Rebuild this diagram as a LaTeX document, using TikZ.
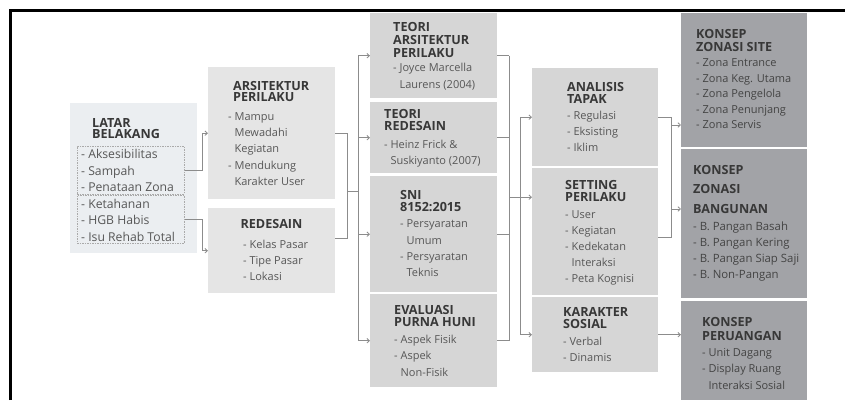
\documentclass[tikz,border=0pt]{standalone}
\usepackage{fontspec}
\setmainfont{Open Sans}
\usetikzlibrary{arrows.meta}
\definecolor{latarc}{HTML}{EBEEF1}
\definecolor{lightc}{HTML}{E5E5E5}
\definecolor{midc}{HTML}{D6D6D6}
\definecolor{darkc}{HTML}{A2A3A7}
\definecolor{titlec}{HTML}{383838}
\definecolor{itemc}{HTML}{575757}
\definecolor{itemdark}{HTML}{444444}
\definecolor{linec}{HTML}{8C8C8C}
\definecolor{dashc}{HTML}{AAAAAA}
\newcommand{\ind}{\hphantom{- }}
\newcommand{\li}[1]{\hbox{#1}}
\begin{document}
\begin{tikzpicture}[x=1pt,y=-1pt,
  box/.style={draw=none, inner sep=0pt, anchor=north west},
  dbox/.style={draw=dashc, dash pattern=on 1.5pt off 1pt, line width=0.5pt, inner sep=0pt, anchor=north west},
  ttl/.style={anchor=base west, inner sep=0pt, text=titlec, font=\bfseries\fontsize{12.6}{#1}\selectfont},
  ttl/.default=12.6,
  itm/.style={anchor=base west, inner sep=0pt, text=itemc, font=\fontsize{11}{#1}\selectfont},
  itm/.default=16.3,
  conn/.style={draw=linec, line width=0.8pt},
  arr/.style={conn, -{Straight Barb[length=2.5pt,width=4.5pt]}}
]
\useasboundingbox (0,0) rectangle (845,400);
\fill[white] (0,0) rectangle (845,400);
\draw[line width=3.5pt, black, line join=miter] (10.5,400) -- (10.5,10.5) -- (845,10.5);

% ---------- column 1
\node[box, fill=latarc, minimum width=127pt, minimum height=150pt] (latar) at (70,103) {};
\node[dbox, minimum width=107pt, minimum height=47.5pt] (d1) at (77,146) {};
\node[dbox, minimum width=107pt, minimum height=48pt] (d2) at (77,195) {};
\node[ttl=11.5] (latarT) at (92,127) {\vtop{\li{LATAR}\li{BELAKANG}}};
\node[itm=16.6, font=\fontsize{12.2}{16.6}\selectfont] (latarI) at (81,158.5) {\vtop{\li{- Aksesibilitas}\li{- Sampah}\li{- Penataan Zona}\li{- Ketahanan}\li{- HGB Habis}\li{- Isu Rehab Total}}};

% ---------- column 2
\node[box, fill=lightc, minimum width=127pt, minimum height=132pt] (ars) at (208,67) {};
\node[ttl=11] (arsT) at (233,90.5) {\vtop{\li{ARSITEKTUR}\li{PERILAKU}}};
\node[itm=16.2] (arsI) at (228,120.5) {\vtop{\li{- Mampu}\li{\ind Mewadahi}\li{\ind Kegiatan}\li{- Mendukung}\li{\ind Karakter User}}};

\node[box, fill=lightc, minimum width=127pt, minimum height=85pt] (red) at (208,208) {};
\node[ttl, anchor=base] (redT) at (271.5,228) {REDESAIN};
\node[itm=16] (redI) at (243,248) {\vtop{\li{- Kelas Pasar}\li{- Tipe Pasar}\li{- Lokasi}}};

% ---------- column 3
\node[box, fill=midc, minimum width=127pt, minimum height=85pt] (tar) at (370,13) {};
\node[ttl=12.8] (tarT) at (393,31.7) {\vtop{\li{TEORI}\li{ARSITEKTUR}\li{PERILAKU}}};
\node[itm=16.3] (tarI) at (393,71.7) {\vtop{\li{- Joyce Marcella}\li{\ind Laurens (2004)}}};

\node[box, fill=midc, minimum width=127pt, minimum height=71pt] (tred) at (370,102) {};
\node[ttl=12.7] (tredT) at (384,118) {\vtop{\li{TEORI}\li{REDESAIN}}};
\node[itm=16.5] (tredI) at (384,148) {\vtop{\li{- Heinz Frick \&}\li{\ind Suskiyanto (2007)}}};

\node[box, fill=midc, minimum width=127pt, minimum height=116pt] (sni) at (370,176) {};
\node[ttl=12.4] (sniT) at (400,199.3) {\vtop{\li{SNI}\li{8152:2015}}};
\node[itm=16.4] (sniI) at (400,227.7) {\vtop{\li{- Persyaratan}\li{\ind Umum}\li{- Persyaratan}\li{\ind Teknis}}};

\node[box, fill=midc, minimum width=127pt, minimum height=93pt] (eval) at (370,294) {};
\node[ttl=12.7] (evalT) at (394,314) {\vtop{\li{EVALUASI}\li{PURNA HUNI}}};
\node[itm=16.8] (evalI) at (394,343) {\vtop{\li{- Aspek Fisik}\li{- Aspek}\li{\ind Non-Fisik}}};

% ---------- column 4
\node[box, fill=midc, minimum width=126pt, minimum height=98pt] (ana) at (532,68) {};
\node[ttl=11.6] (anaT) at (567,91.7) {\vtop{\li{ANALISIS}\li{TAPAK}}};
\node[itm=16.2] (anaI) at (567,119.3) {\vtop{\li{- Regulasi}\li{- Eksisting}\li{- Iklim}}};

\node[box, fill=midc, minimum width=126pt, minimum height=127pt] (set) at (532,168) {};
\node[ttl=12.4] (setT) at (565,189.3) {\vtop{\li{SETTING}\li{PERILAKU}}};
\node[itm=16.1] (setI) at (565,218.3) {\vtop{\li{- User}\li{- Kegiatan}\li{- Kedekatan}\li{\ind Interaksi}\li{- Peta Kognisi}}};

\node[box, fill=midc, minimum width=126pt, minimum height=75pt] (kar) at (532,297) {};
\node[ttl=11.6] (karT) at (563,316.7) {\vtop{\li{KARAKTER}\li{SOSIAL}}};
\node[itm=16] (karI) at (563,345) {\vtop{\li{- Verbal}\li{- Dinamis}}};

% ---------- column 5
\node[box, fill=darkc, minimum width=126pt, minimum height=134pt] (site) at (681,13) {};
\node[ttl=13] (siteT) at (696,38.5) {\vtop{\li{KONSEP}\li{ZONASI SITE}}};
\node[itm=15.5, text=itemdark] (siteI) at (696,66.7) {\vtop{\li{- Zona Entrance}\li{- Zona Keg. Utama}\li{- Zona Pengelola}\li{- Zona Penunjang}\li{- Zona Servis}}};

\node[box, fill=darkc, minimum width=126pt, minimum height=149pt] (ban) at (681,149) {};
\node[ttl=19.5] (banT) at (693,174) {\vtop{\li{KONSEP}\li{ZONASI}\li{BANGUNAN}}};
\node[itm=16.3, text=itemdark, font=\fontsize{11.4}{16.3}\selectfont] (banI) at (693,230) {\vtop{\li{- B. Pangan Basah}\li{- B. Pangan Kering}\li{- B. Pangan Siap Saji}\li{- B. Non-Pangan}}};

\node[box, fill=darkc, minimum width=126pt, minimum height=99pt] (per) at (681,301) {};
\node[ttl=13.3] (perT) at (702,326.7) {\vtop{\li{KONSEP}\li{PERUANGAN}}};
\node[itm=16.2, text=itemdark] (perI) at (702,356.7) {\vtop{\li{- Unit Dagang}\li{- Display Ruang}\li{\ind Interaksi Sosial}}};

% ---------- connectors
\draw[arr] (d1.east) -- ++(18,0) |- (ars.west);
\draw[arr] (d2.east) -- ++(18,0) |- (red.west);

\coordinate (j1) at (347,191);
\coordinate (k1) at (358,0);
\draw[conn] (ars.east) -- ++(12,0) |- ([yshift=12.5pt]red.east);
\draw[conn] (j1) -- (k1 |- j1);
\draw[conn] (k1 |- tar.west) -- (k1 |- eval.west);
\draw[arr] (k1 |- tar.west) -- (tar.west);
\draw[arr] (k1 |- tred.west) -- (tred.west);
\draw[arr] (k1 |- sni.west) -- (sni.west);
\draw[arr] (k1 |- eval.west) -- (eval.west);

\coordinate (k2) at (509,0);
\coordinate (k3) at (520,0);
\coordinate (setin) at ([yshift=34.5pt]set.west);
\draw[conn] (tar.east) -- (k2 |- tar.east);
\draw[conn] (tred.east) -- (k2 |- tred.east);
\draw[conn] (sni.east) -- (k2 |- sni.east);
\draw[conn] (eval.east) -- (k2 |- eval.east);
\draw[conn] (k2 |- tar.east) -- (k2 |- eval.east);
\draw[arr] (k2 |- setin) -- (setin);
\draw[conn] (k3 |- ana.west) -- (k3 |- kar.west);
\draw[arr] (k3 |- ana.west) -- (ana.west);
\draw[arr] (k3 |- kar.west) -- (kar.west);

\coordinate (a1) at (671,125);
\coordinate (a2) at (671,209);
\draw[conn] (ana.east) -- ++(13,0) |- ([yshift=-5.5pt]set.east);
\draw[arr] (a1) -- (a1 -| site.west);
\draw[arr] (a2) -- (a2 -| ban.west);
\draw[arr] (kar.east) -- (kar.east -| per.west);
\end{tikzpicture}
\end{document}
